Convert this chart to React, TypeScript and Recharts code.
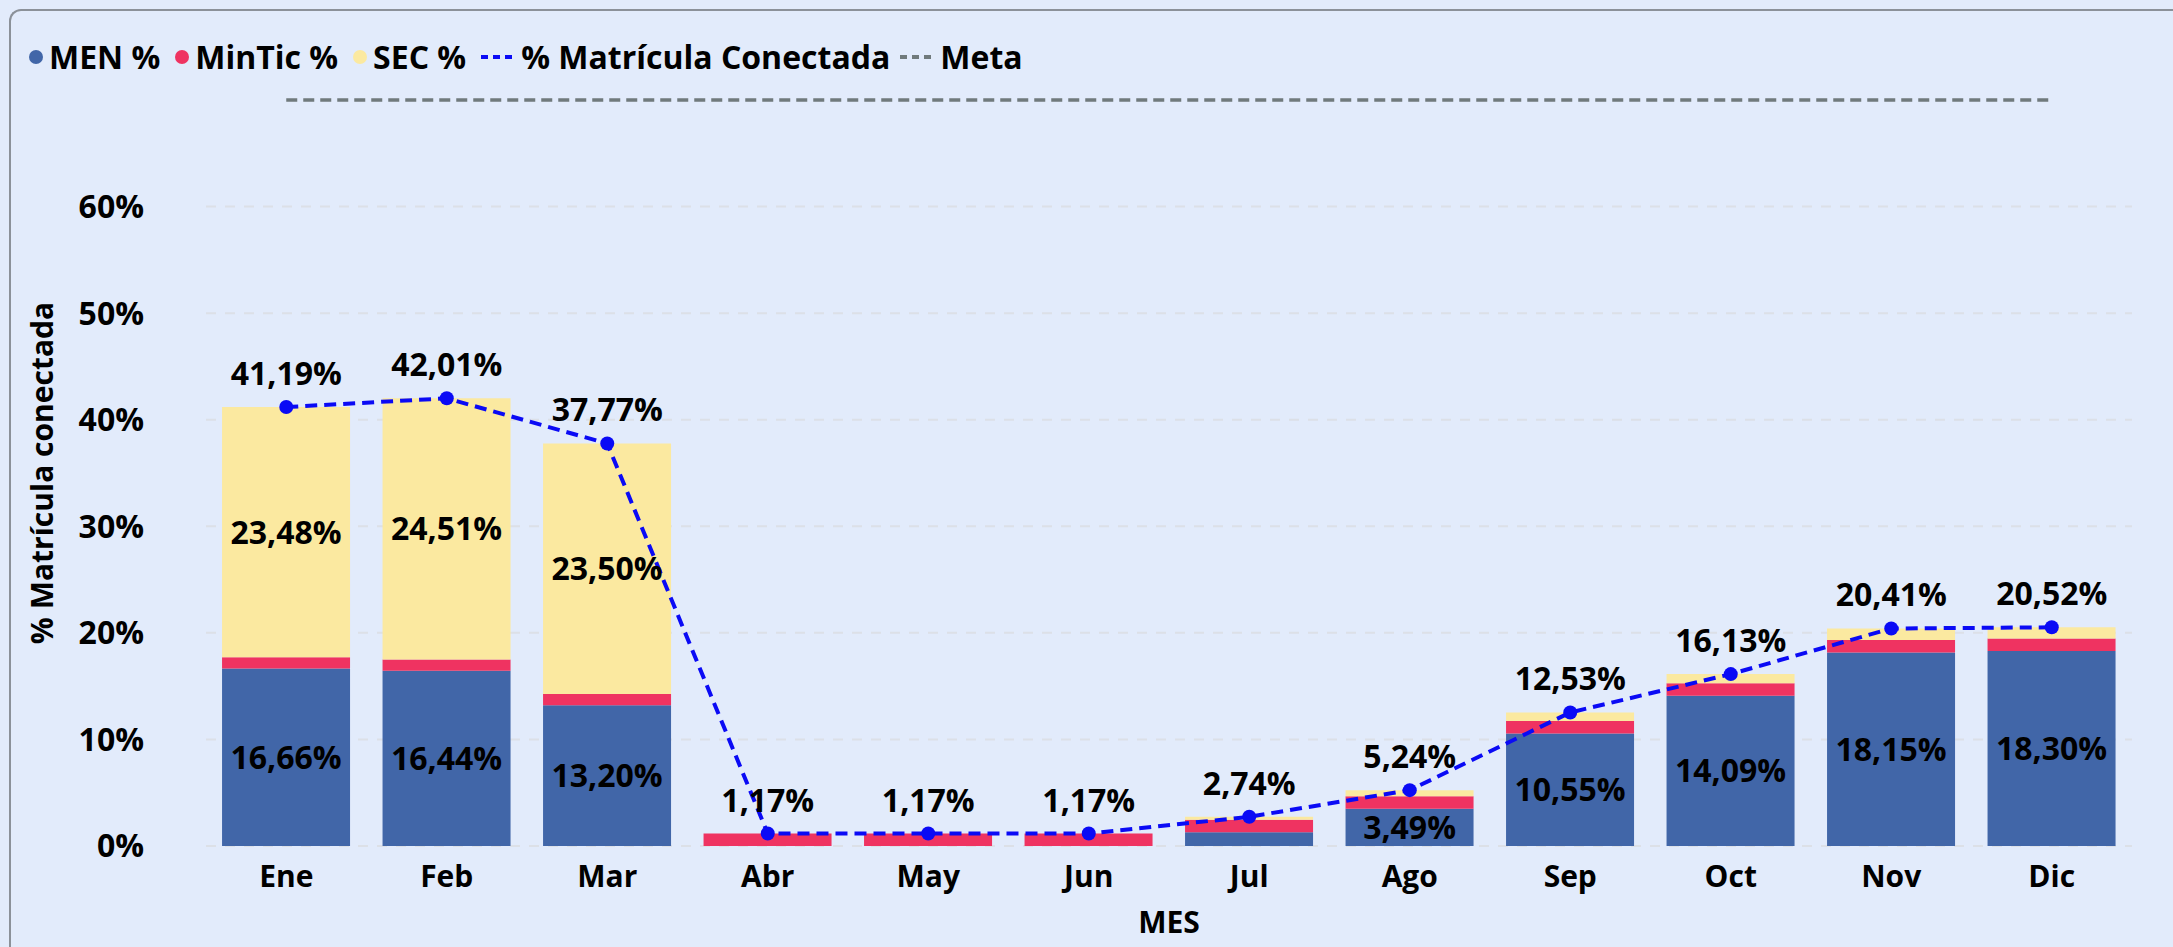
import React from "react";
import {
  ComposedChart,
  Bar,
  Line,
  XAxis,
  YAxis,
  CartesianGrid,
  LabelList,
} from "recharts";

const months = ["Ene", "Feb", "Mar", "Abr", "May", "Jun", "Jul", "Ago", "Sep", "Oct", "Nov", "Dic"];
const menPct = [16.66, 16.44, 13.2, 0, 0, 0, 1.3, 3.49, 10.55, 14.09, 18.15, 18.3];
const minticPct = [1.05, 1.06, 1.07, 1.17, 1.17, 1.17, 1.17, 1.17, 1.17, 1.17, 1.17, 1.17];
const secPct = [23.48, 24.51, 23.5, 0, 0, 0, 0.27, 0.58, 0.81, 0.87, 1.09, 1.05];
const conectadaPct = [41.19, 42.01, 37.77, 1.17, 1.17, 1.17, 2.74, 5.24, 12.53, 16.13, 20.41, 20.52];
const metaPct = [70, 70, 70, 70, 70, 70, 70, 70, 70, 70, 70, 70];
const yTicks = [0, 10, 20, 30, 40, 50, 60];

const data = months.map((mes, i) => ({
  mes,
  men: menPct[i],
  mintic: minticPct[i],
  sec: secPct[i],
  conectada: conectadaPct[i],
  meta: metaPct[i],
}));

const FONT = "'Open Sans', 'DejaVu Sans', sans-serif";
const C_MEN = "#4166A8";
const C_MINTIC = "#EF3361";
const C_SEC = "#FBE9A0";
const C_LINE = "#0A0AF5";
const C_META = "#707A7C";
const BG = "#E2EBFB";

const fmt = (v: number) => v.toFixed(2).replace(".", ",") + "%";
// power bi hides labels that don't fit the segment
const fmtBar = (v: any) => (Number(v) >= 2 ? fmt(Number(v)) : "");

const labelStyle = { fill: "#000", fontSize: 32, fontWeight: 700, fontFamily: FONT };

const legendItems = [
  { name: "MEN %", color: C_MEN, kind: "dot" },
  { name: "MinTic %", color: C_MINTIC, kind: "dot" },
  { name: "SEC %", color: C_SEC, kind: "dot" },
  { name: "% Matrícula Conectada", color: C_LINE, kind: "dash" },
  { name: "Meta", color: C_META, kind: "dash" },
];

const ChartLegend = () => (
  <div
    style={{
      position: "absolute",
      left: 29,
      top: 35,
      display: "flex",
      alignItems: "center",
      fontFamily: FONT,
      fontWeight: 700,
      fontSize: 32,
      color: "#000",
      whiteSpace: "nowrap",
    }}
  >
    {legendItems.map((it) => (
      <div key={it.name} style={{ display: "flex", alignItems: "center", marginRight: it.kind === "dot" ? 15 : 10 }}>
        {it.kind === "dot" ? (
          <svg width={14} height={14} style={{ marginRight: 6 }}>
            <circle cx={7} cy={7} r={7} fill={it.color} />
          </svg>
        ) : (
          <svg width={32} height={14} style={{ marginRight: 8 }}>
            <line x1={0} y1={7} x2={32} y2={7} stroke={it.color} strokeWidth={4} strokeDasharray="7 5" />
          </svg>
        )}
        <span>{it.name}</span>
      </div>
    ))}
  </div>
);

const YTitle = (props: any) => {
  const vb = props.viewBox || {};
  const cx = 41;
  const cy = vb.y + vb.height / 2;
  return (
    <text
      x={cx}
      y={cy}
      transform={`rotate(-90 ${cx} ${cy})`}
      textAnchor="middle"
      dominantBaseline="central"
      style={{ fontFamily: FONT, fontSize: 30, fontWeight: 700, fill: "#000" }}
    >
      % Matrícula conectada
    </text>
  );
};

const XTitle = (props: any) => {
  const vb = props.viewBox || {};
  return (
    <text
      x={vb.x + vb.width / 2}
      y={vb.y + 87}
      textAnchor="middle"
      style={{ fontFamily: FONT, fontSize: 30, fontWeight: 700, fill: "#000" }}
    >
      MES
    </text>
  );
};

export default function App() {
  return (
    <div style={{ position: "absolute", left: 0, top: 0, width: 2173, height: 947, background: BG, overflow: "hidden" }}>
      <div
        style={{
          position: "absolute",
          left: 9,
          top: 9,
          width: 2400,
          height: 1200,
          borderTop: "2px solid #8B9199",
          borderLeft: "2px solid #8B9199",
          borderTopLeftRadius: 12,
        }}
      />
      <ComposedChart
        width={2173}
        height={947}
        data={data}
        margin={{ top: 100, right: 41, bottom: 0, left: 0 }}
        barCategoryGap="10%"
        style={{ position: "absolute", left: 0, top: 0 }}
      >
        <CartesianGrid vertical={false} syncWithTicks stroke="#DCE0E7" strokeDasharray="10 9" strokeWidth={2} />
        <XAxis
          dataKey="mes"
          height={101}
          axisLine={false}
          tickLine={false}
          tickSize={0}
          tickMargin={20}
          tick={{ fill: "#000", fontSize: 30, fontWeight: 700, fontFamily: FONT }}
          label={<XTitle />}
        />
        <YAxis
          width={206}
          domain={[0, 70]}
          ticks={yTicks}
          axisLine={false}
          tickLine={false}
          tickSize={0}
          tickMargin={62}
          tickFormatter={(v: number) => `${v}%`}
          tick={{ fill: "#000", fontSize: 32, fontWeight: 700, fontFamily: FONT }}
          label={<YTitle />}
        />
        <Bar dataKey="men" stackId="a" fill={C_MEN} isAnimationActive={false}>
          <LabelList dataKey="men" position="center" formatter={fmtBar} style={labelStyle} />
        </Bar>
        <Bar dataKey="mintic" stackId="a" fill={C_MINTIC} isAnimationActive={false} />
        <Bar dataKey="sec" stackId="a" fill={C_SEC} isAnimationActive={false}>
          <LabelList dataKey="sec" position="center" formatter={fmtBar} style={labelStyle} />
        </Bar>
        <Line
          dataKey="meta"
          type="linear"
          stroke={C_META}
          strokeWidth={3.5}
          strokeDasharray="11 6"
          dot={false}
          activeDot={false}
          isAnimationActive={false}
        />
        <Line
          dataKey="conectada"
          type="linear"
          stroke={C_LINE}
          strokeWidth={4}
          strokeDasharray="12 7"
          dot={{ r: 7, fill: C_LINE, stroke: "none" }}
          activeDot={false}
          isAnimationActive={false}
        >
          <LabelList dataKey="conectada" position="top" offset={22} formatter={(v: any) => fmt(Number(v))} style={labelStyle} />
        </Line>
      </ComposedChart>
      <ChartLegend />
    </div>
  );
}
